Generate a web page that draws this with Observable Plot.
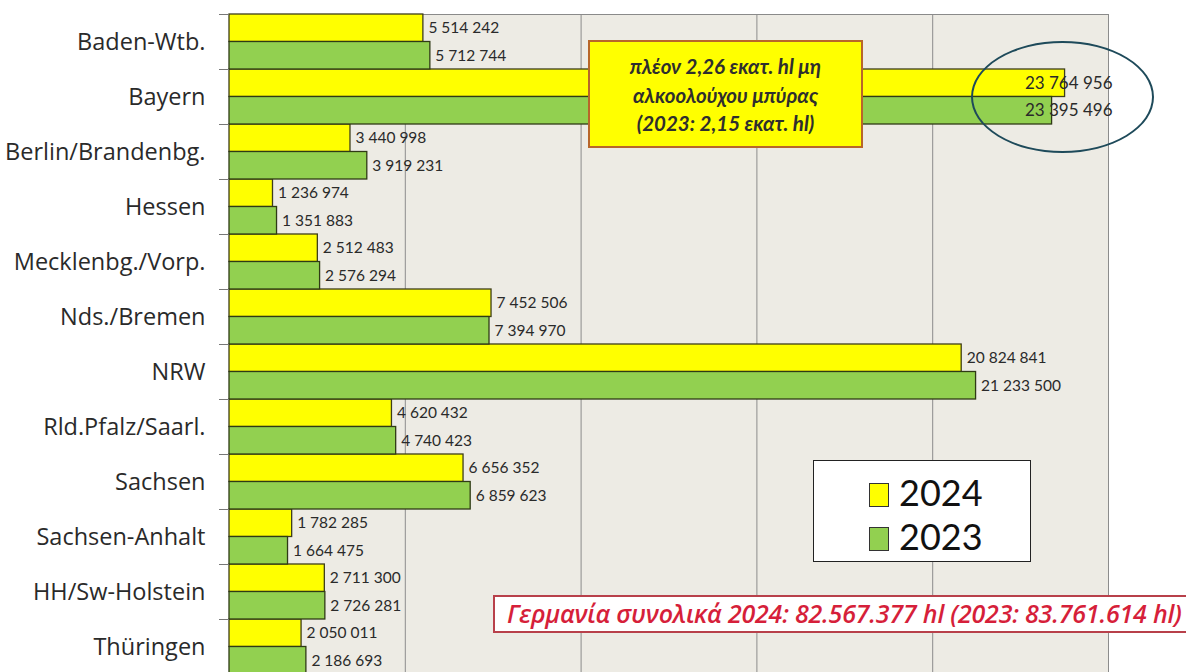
<!DOCTYPE html>
<html>
<head>
<meta charset="utf-8">
<script src="https://cdn.jsdelivr.net/npm/d3@7"></script>
<script src="https://cdn.jsdelivr.net/npm/@observablehq/plot@0.6"></script>
<style>
  html, body { margin: 0; padding: 0; background: #fff; overflow: hidden; }
  #wrap { position: relative; width: 1186px; height: 672px; overflow: hidden; font-family: Lato, "Open Sans", sans-serif; }
  #chart { position: absolute; left: 0; top: 0; }
  .note { position: absolute; left: 588px; top: 40px; width: 275px; height: 108px; box-sizing: border-box;
          background: #FFFF00; border: 2px solid #B8662A; text-align: center; font-style: italic; font-weight: 700;
          font-size: 20.5px; line-height: 28.5px; color: #2e2e2e; padding-top: 10px; }
  .ring { position: absolute; left: 971px; top: 41px; width: 183px; height: 112px; box-sizing: border-box;
          border: 2.5px solid #1E4A5A; border-radius: 50%; }
  .legend { position: absolute; left: 813px; top: 460px; width: 218px; height: 102px; box-sizing: border-box;
            background: #fff; border: 1.5px solid #222; }
  .legend .item { position: absolute; left: 55px; font-size: 36px; line-height: 36px; color: #111; }
  .legend .sw { display: inline-block; width: 20px; height: 24px; box-sizing: border-box; border: 1.5px solid #333;
                vertical-align: -1px; margin-right: 10px; }
  .total { position: absolute; left: 493px; top: 595px; width: 720px; height: 38px; box-sizing: border-box;
           background: #fff; border: 2px solid #B8404A; color: #D61F3A; font-family: "Open Sans", Lato, sans-serif;
           font-style: italic; font-weight: 600; font-size: 25px; line-height: 33px; padding-left: 12px; white-space: nowrap;
           letter-spacing: -0.2px; }
</style>
</head>
<body>
<div id="wrap">
  <div id="chart"></div>
  <div class="note">πλέον 2,26 εκατ. hl μη<br>αλκοολούχου μπύρας<br>(2023: 2,15 εκατ. hl)</div>
  <div class="ring"></div>
  <div class="legend">
    <div class="item" style="top:13px"><span class="sw" style="background:#FFFF00"></span>2024</div>
    <div class="item" style="top:57px"><span class="sw" style="background:#92D050"></span>2023</div>
  </div>
  <div class="total">Γερμανία συνολικά 2024: 82.567.377 hl (2023: 83.761.614 hl)</div>
</div>
<script>
const states = ["Baden-Wtb.", "Bayern", "Berlin/Brandenbg.", "Hessen", "Mecklenbg./Vorp.", "Nds./Bremen",
  "NRW", "Rld.Pfalz/Saarl.", "Sachsen", "Sachsen-Anhalt", "HH/Sw-Holstein", "Thüringen"];
const values2024 = [5514242, 23764956, 3440998, 1236974, 2512483, 7452506, 20824841, 4620432, 6656352, 1782285, 2711300, 2050011];
const values2023 = [5712744, 23395496, 3919231, 1351883, 2576294, 7394970, 21233500, 4740423, 6859623, 1664475, 2726281, 2186693];
const xTicks = [5e6, 10e6, 15e6, 20e6, 25e6];
const xMax = 25e6;

const rows2024 = states.map((s, i) => ({state: s, value: values2024[i]}));
const rows2023 = states.map((s, i) => ({state: s, value: values2023[i]}));
const fmt = d => d3.format(",")(d.value).replace(/,/g, " ");
const overflow = d => d.value > 22e6;

const H = 680, MT = 14, MB = 6;
const half = (H - MT - MB) / states.length / 2;

const labelStyle = {fontSize: 15.5, fill: "#2a2a2a", textAnchor: "start", dx: 5};

const chart = Plot.plot({
  width: 1186,
  height: H,
  marginLeft: 229,
  marginRight: 78,
  marginTop: MT,
  marginBottom: MB,
  style: {fontFamily: "Lato, 'Open Sans', sans-serif", background: "transparent"},
  x: {domain: [0, xMax], axis: null},
  y: {domain: states, padding: 0, axis: null, label: null},
  marks: [
    Plot.frame({fill: "#EDEBE4", stroke: "#8a8a8a"}),
    Plot.ruleX(xTicks, {stroke: "#8c8c8c", strokeWidth: 1}),
    Plot.barX(rows2024, {x: "value", y: "state", fill: "#FFFF00", stroke: "#3e3e1a", strokeWidth: 1.3, insetBottom: half}),
    Plot.barX(rows2023, {x: "value", y: "state", fill: "#92D050", stroke: "#2f3a15", strokeWidth: 1.3, insetTop: half}),
    Plot.axisY({tickSize: 10, fill: "none", stroke: "#777", dy: -half, label: null}),
    Plot.axisY({tickSize: 0, tickPadding: 24, fontSize: 23.5, fill: "#2a2a2a", label: null, fontFamily: "'Open Sans', Lato, sans-serif"}),
    Plot.text(rows2024.filter(d => !overflow(d)), {x: "value", y: "state", text: fmt, dy: -half / 2, ...labelStyle}),
    Plot.text(rows2023.filter(d => !overflow(d)), {x: "value", y: "state", text: fmt, dy: half / 2, ...labelStyle}),
    Plot.text(rows2024.filter(overflow), {y: "state", text: fmt, frameAnchor: "right", textAnchor: "end", dx: 4, dy: -half / 2, fontSize: 17, fill: "#2a2a2a"}),
    Plot.text(rows2023.filter(overflow), {y: "state", text: fmt, frameAnchor: "right", textAnchor: "end", dx: 4, dy: half / 2, fontSize: 17, fill: "#2a2a2a"})
  ]
});
document.getElementById("chart").appendChild(chart);
</script>
</body>
</html>
